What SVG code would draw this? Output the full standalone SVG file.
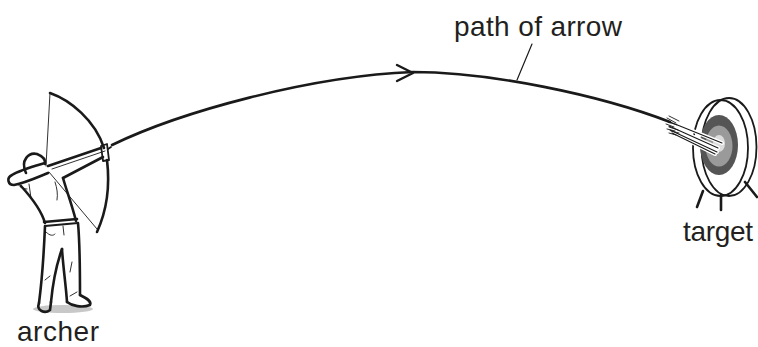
<svg xmlns="http://www.w3.org/2000/svg" width="758" height="347" viewBox="0 0 758 347">
<style>
.ink{fill:none;stroke:#1a1a1a;stroke-linecap:round;stroke-linejoin:round}
.thick{stroke-width:2.6}
.med{stroke-width:1.8}
.thin{stroke-width:0.9}
.lbl{font-family:"Liberation Sans",Arial,Helvetica,sans-serif;font-size:28px;fill:#231f20}
</style>
<rect width="758" height="347" fill="#ffffff"/>

<g id="archer">
  <ellipse cx="63" cy="309" rx="30" ry="4" fill="#c8c8c8"/>
  <!-- bow -->
  <path class="ink thick" d="M50,93 C70,100 95,120 104,148"/>
  <path class="ink thick" d="M107,160 C110,185 107,210 97,232"/>
  <path class="ink med" d="M101,146 L107,144 L109,160 L103,161 Z" fill="#fff"/>
  <!-- string -->
  <path class="ink thin" d="M50,93 L46,166"/>
  <path class="ink thin" d="M49,172 L97,229"/>
  <!-- bow arm -->
  <path class="ink thick" d="M48,166 L101,148"/>
  <path class="ink thick" d="M63,178 L103,157"/>
  <path class="ink thin" d="M52,169 L105,151"/>
  <path class="ink med" d="M108,149 L111,147"/>
  <!-- head -->
  <path class="ink thick" d="M26,173 C20,160 29,152 37,154 C42,156 46,159 45,164"/>
  <!-- drawing arm -->
  <path class="ink thick" d="M45,163 C35,166 20,170 12,175 C6,178 8,185 14,185 C25,183 38,177 48,173"/>
  <path class="ink thin" d="M18,184 C20,188 24,189 27,189"/>
  <!-- torso -->
  <path class="ink thick" d="M21,186 C31,197 41,209 45,223"/>
  <path class="ink thick" d="M63,178 C67,192 72,205 76,221"/>
  <path class="ink thin" d="M29,184 L31,198"/>
  <path class="ink thin" d="M55,182 C57,188 58,194 57,200"/>
  <!-- belt -->
  <path class="ink thick" d="M44,222 L77,219"/>
  <path class="ink med" d="M45,226 L78,223"/>
  <!-- legs -->
  <path class="ink thick" d="M45,226 C44,250 42,280 39,303"/>
  <path class="ink thick" d="M39,303 C36,311 45,314 50,310 L51,302"/>
  <path class="ink thick" d="M62,249 C57,263 53,281 51,302"/>
  <path class="ink thick" d="M62,249 C63,266 66,286 67,302"/>
  <path class="ink thick" d="M67,302 C72,306 82,308 90,305 C92,301 86,298 80,295"/>
  <path class="ink thick" d="M78,223 C80,245 80,275 80,295"/>
  <path class="ink thin" d="M46,232 C50,236 53,236 55,234"/>
  <path class="ink thin" d="M63,226 L64,235"/>
  <path class="ink thin" d="M72,262 L70,272"/>
  <path class="ink thin" d="M45,280 L50,276"/>
  <path class="ink thin" d="M70,296 L77,292"/>
</g>

<g id="target">
  <path class="ink thick" d="M703,191 L697,207"/>
  <path class="ink thick" d="M721,195 L721,210"/>
  <path class="ink thick" d="M745,182 L757,197"/>
  <ellipse class="ink med" cx="729" cy="147" rx="27.5" ry="49" fill="#fff"/>
  <ellipse class="ink med" cx="720.5" cy="148" rx="27.5" ry="48" fill="#fff"/>
  <ellipse cx="719" cy="145" rx="19" ry="30" fill="#555"/>
  <ellipse cx="719" cy="146" rx="13.5" ry="20.5" fill="#9a9a9a"/>
  <ellipse cx="719" cy="143.5" rx="6" ry="8.5" fill="#dcdcdc"/>
  <!-- arrows in target -->
  <g class="ink">
    <path stroke="#fff" stroke-width="4" d="M674,123 L722,143 M672,127 L718,148 M673,131 L717,152 M675,134 L715,154"/>
    <path stroke-width="1.1" d="M670,122 L722,143 M669,126 L718,148 M670,130 L717,152 M672,133 L715,154"/>
    <path class="thin" d="M667,118 L676,123 M669,116 L679,121 M666,124 L674,127 M668,122 L677,125 M667,129 L675,131 M669,127 L678,130 M669,133 L676,135 M671,131 L679,133"/>
  </g>
</g>

<g id="connectors">
  <path class="ink" stroke-width="2.6" d="M112,145 C180,112 310,76 413,72 C490,72 600,95 670,122"/>
  <path class="ink" stroke-width="2.4" d="M397,65 L413,73 L397,81"/>
  <path class="ink" stroke-width="1.2" d="M517,80 L532,44"/>
</g>

<g id="labels">
  <text class="lbl" x="454" y="36" textLength="168">path of arrow</text>
  <text class="lbl" x="17" y="341" textLength="82">archer</text>
  <text class="lbl" x="683" y="241" textLength="70">target</text>
</g>
</svg>
